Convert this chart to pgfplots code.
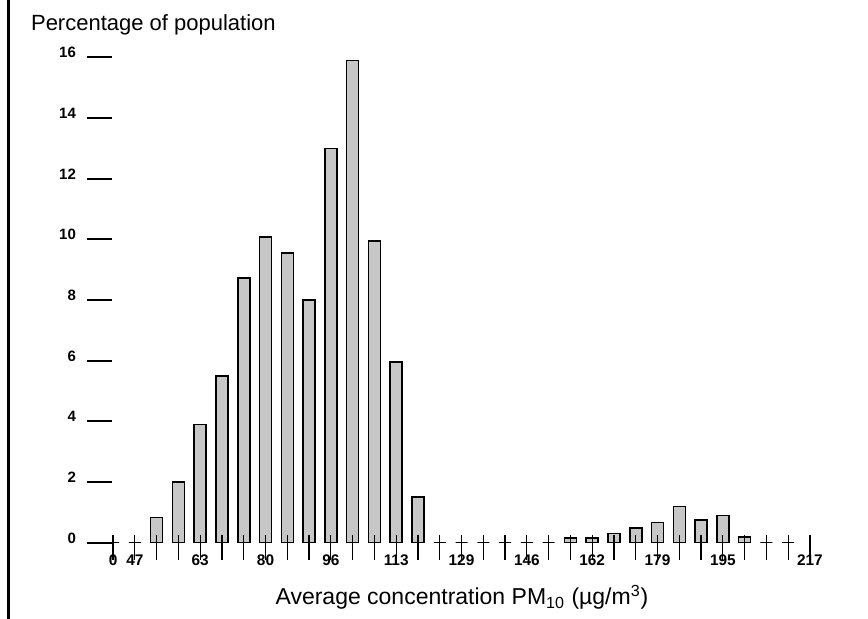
\documentclass[border=0pt]{standalone}
\usepackage{pgfplots}
\pgfplotsset{compat=1.18}
\usepackage{fontspec}
\setmainfont{Liberation Sans}
\begin{document}
\begin{tikzpicture}
\useasboundingbox (-56pt,-38.15pt) rectangle (378pt,271.35pt);
\draw[line width=1.7pt] (-51.75pt,-38.15pt) -- (-51.75pt,271.35pt);
\begin{axis}[
  at={(0pt,0pt)}, anchor=south west,
  scale only axis, width=352.25pt, height=242.7pt,
  xmin=-0.05, xmax=32.3, ymin=0, ymax=16,
  clip=false,
  axis x line*=bottom, axis y line*=left,
  x axis line style={draw=none}, y axis line style={draw=none},
  axis on top,
  ybar, bar width=6pt,
  tick align=outside, major tick length=12.5pt,
  xtick={0,...,32},
  xticklabels={0,47,{},{},63,{},{},80,{},{},96,{},{},113,{},{},129,{},{},146,{},{},162,{},{},179,{},{},195,{},{},{},217},
  ytick={0,2,...,16},
  x tick label style={font=\bfseries\fontsize{7.7}{9}\selectfont, anchor=center, yshift=3.85pt},
  y tick label style={font=\bfseries\fontsize{7.5}{9}\selectfont, xshift=-2pt, yshift=2.25pt},
  /pgf/number format/assume math mode=true,
  xtick style={draw=black, line width=0.6pt, yshift=3.85pt},
  ytick style={draw=black, line width=0.9pt},
  xlabel={Average concentration PM\textsubscript{10} (µg/m\textsuperscript{3})},
  xlabel style={font=\fontsize{11.5}{13}\selectfont, at={(axis description cs:0.4968,-0.1283)}, anchor=base},
  ylabel={Percentage of population},
  ylabel style={font=\fontsize{11}{13}\selectfont, rotate=-90, at={(axis description cs:-0.1249,1.0542)}, anchor=base west},
]
\addplot[draw=black, line width=0.75pt, fill=black!22] coordinates {
(0,0) (1,0) (2,0.83) (3,2.0) (4,3.9) (5,5.5) (6,8.72) (7,10.08) (8,9.55) (9,8.0)
(10,13.0) (11,15.9) (12,9.95) (13,5.95) (14,1.5) (15,0) (16,0) (17,0) (18,0) (19,0)
(20,0) (21,0.15) (22,0.15) (23,0.31) (24,0.48) (25,0.67) (26,1.19) (27,0.75) (28,0.89)
(29,0.18) (30,0) (31,0)
};
\end{axis}
\end{tikzpicture}
\end{document}
